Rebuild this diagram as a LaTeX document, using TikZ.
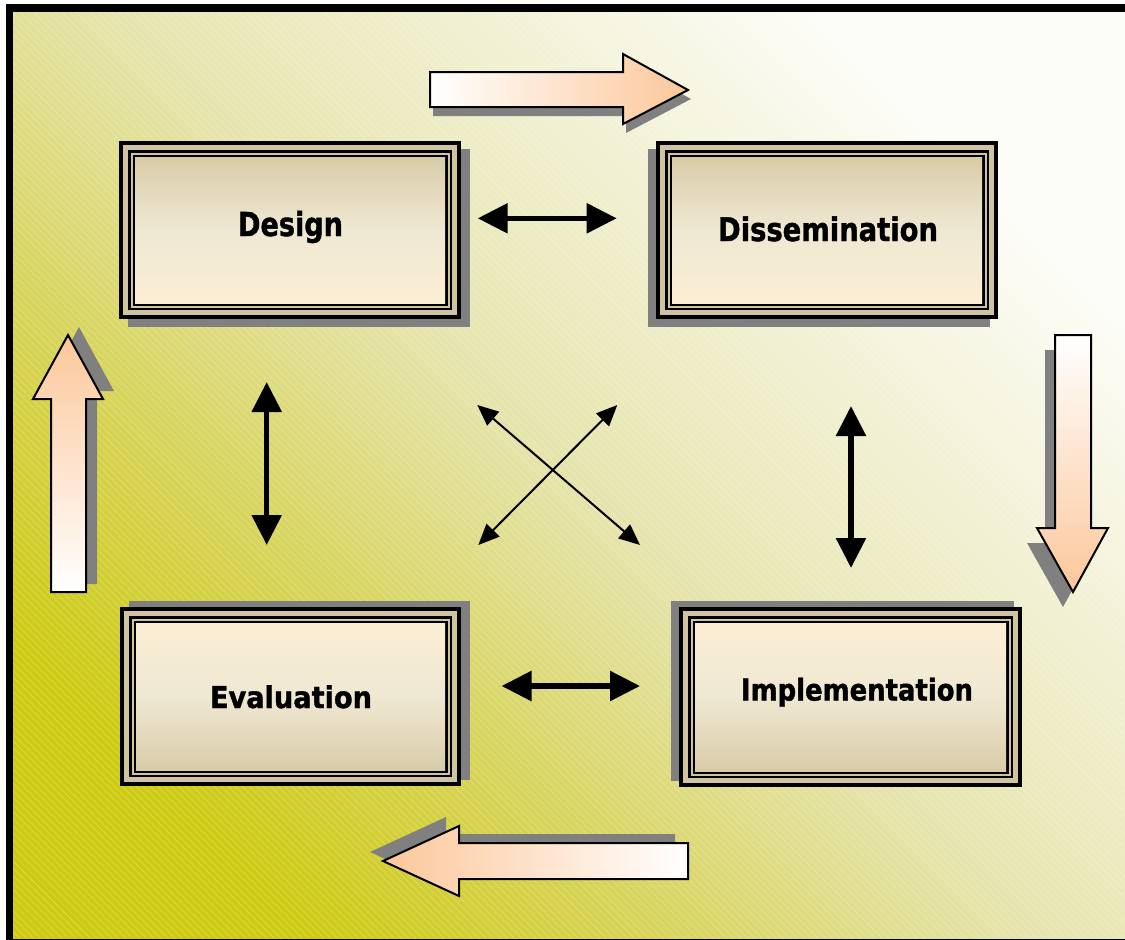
\documentclass[tikz,border=0pt]{standalone}
\usepackage{fontspec}
\usepackage{graphicx}
\setmainfont{DejaVu Sans}[BoldFeatures={FakeBold=1.3}]
\usetikzlibrary{arrows.meta,fit,calc,patterns.meta}
\definecolor{peach}{RGB}{252,199,154}
\definecolor{shadowgray}{RGB}{128,128,128}
\definecolor{tanline}{RGB}{208,195,160}
\definecolor{boxdark}{RGB}{216,204,168}
\definecolor{boxmid}{RGB}{239,232,210}
\definecolor{boxlight}{RGB}{251,238,213}
\definecolor{bgdark}{RGB}{206,202,18}
\definecolor{bgyel}{RGB}{216,213,96}
\definecolor{bgmid}{RGB}{230,228,172}
\definecolor{bglight}{RGB}{253,253,248}
\pgfdeclareverticalshading{bgshade}{100bp}{color(0bp)=(bgdark); color(25bp)=(bgdark); color(38bp)=(bgyel); color(50bp)=(bgmid); color(75bp)=(bglight); color(100bp)=(bglight)}

\tikzset{
  thickdbl/.style={line width=5.5pt, {Triangle[length=30pt,width=29pt]}-{Triangle[length=30pt,width=29pt]}},
  thindbl/.style={line width=2pt, {Triangle[length=21pt,width=18pt]}-{Triangle[length=21pt,width=18pt]}},
  blockarrow/.style={draw=black, line width=2pt, line join=miter},
  blockshadow/.style={fill=shadowgray},
  lbl/.style={anchor=base, inner sep=0pt, font=\bfseries},
  darktop/.style={top color=boxdark, bottom color=boxlight, middle color=boxmid},
  darkbottom/.style={top color=boxlight, bottom color=boxdark, middle color=boxmid},
}

% #1 name, #2 x1, #3 y1, #4 x2, #5 y2, #6 shadow dx, #7 shadow dy, #8 shading style
\newcommand\layeredbox[8]{%
  \coordinate (#1-nw) at (#2,#3);
  \coordinate (#1-se) at (#4,#5);
  \fill[shadowgray] ($(#1-nw)+(#6,#7)$) rectangle ($(#1-se)+(#6,#7)$);
  \node[fit=(#1-nw)(#1-se), inner sep=0pt, fill=black] (#1) {};
  \fill[tanline] ($(#1-nw)+(4,4)$) rectangle ($(#1-se)+(-4,-4)$);
  \fill[black] ($(#1-nw)+(9,9)$) rectangle ($(#1-se)+(-9,-9)$);
  \fill[tanline] ($(#1-nw)+(11.5,11.5)$) rectangle ($(#1-se)+(-11.5,-11.5)$);
  \fill[black] ($(#1-nw)+(13.5,13.5)$) rectangle ($(#1-se)+(-13.5,-13.5)$);
  \shade[#8] ($(#1-nw)+(16,16)$) rectangle ($(#1-se)+(-16,-16)$);
}

\begin{document}
\begin{tikzpicture}[x=1pt,y=-1pt]
\useasboundingbox (0,0) rectangle (1125,940);
% frame and background
\fill[black] (6,4) rectangle (1125,940);
\shade[shading=bgshade, shading angle=-45] (13,12) rectangle (1125,938);
\fill[pattern={Lines[angle=-45,distance=5pt,line width=0.7pt]}, pattern color=white, opacity=0.25] (13,12) rectangle (1125,938);

% boxes
\layeredbox{design}{119}{141}{461}{319}{9}{8}{darktop}
\layeredbox{dissem}{656}{141}{998}{319}{-8}{8}{darktop}
\layeredbox{evalu}{120}{607}{461}{786}{9}{-6}{darkbottom}
\layeredbox{implem}{679}{607}{1022}{787}{-8}{-6}{darkbottom}

% labels
\node[lbl] (design-t) at (290.5,236) {\resizebox{105pt}{\height}{\fontsize{33}{33}\selectfont Design}};
\node[lbl] (dissem-t) at (828,241) {\resizebox{220pt}{\height}{\fontsize{32.5}{33}\selectfont Dissemination}};
\node[lbl] (evalu-t) at (291,708) {\resizebox{162pt}{\height}{\fontsize{30}{30}\selectfont Evaluation}};
\node[lbl] (implem-t) at (857,700.5) {\resizebox{232pt}{\height}{\fontsize{30}{30}\selectfont Implementation}};

% connector end points
\coordinate (dd-a) at (477.7,218.3);
\coordinate (dd-b) at (616.7,218.3);
\coordinate (ei-a) at (501.5,686);
\coordinate (ei-b) at (640,686);
\coordinate (de-a) at (266.7,382);
\coordinate (de-b) at (266.7,545);
\coordinate (di-a) at (851,406);
\coordinate (di-b) at (851,568);
\coordinate (x1-a) at (477.3,405);
\coordinate (x1-b) at (640,545);
\coordinate (x2-a) at (617.3,405);
\coordinate (x2-b) at (478.3,545);

\draw[thickdbl] (dd-a) -- (dd-b);
\draw[thickdbl] (ei-a) -- (ei-b);
\draw[thickdbl] (de-a) -- (de-b);
\draw[thickdbl] (di-a) -- (di-b);
\draw[thindbl] (x1-a) -- (x1-b);
\draw[thindbl] (x2-a) -- (x2-b);

% block arrows
% top: right
\fill[blockshadow, shift={(3,9)}] (430,72) -- (623,72) -- (623,54) -- (688,90) -- (623,124) -- (623,107) -- (430,107) -- cycle;
\shade[left color=white, right color=peach] (430,72) -- (623,72) -- (623,54) -- (688,90) -- (623,124) -- (623,107) -- (430,107) -- cycle;
\draw[blockarrow] (430,72) -- (623,72) -- (623,54) -- (688,90) -- (623,124) -- (623,107) -- (430,107) -- cycle;
% right: down
\fill[blockshadow, shift={(-10,15)}] (1055,335) -- (1091,335) -- (1091,528) -- (1108,528) -- (1073,592) -- (1037,528) -- (1055,528) -- cycle;
\shade[top color=white, bottom color=peach] (1055,335) -- (1091,335) -- (1091,528) -- (1108,528) -- (1073,592) -- (1037,528) -- (1055,528) -- cycle;
\draw[blockarrow] (1055,335) -- (1091,335) -- (1091,528) -- (1108,528) -- (1073,592) -- (1037,528) -- (1055,528) -- cycle;
% bottom: left
\fill[blockshadow, shift={(-13,-9)}] (688,843) -- (688,879) -- (459,879) -- (459,896) -- (383,861) -- (459,826) -- (459,843) -- cycle;
\shade[left color=peach, right color=white] (688,843) -- (688,879) -- (459,879) -- (459,896) -- (383,861) -- (459,826) -- (459,843) -- cycle;
\draw[blockarrow] (688,843) -- (688,879) -- (459,879) -- (459,896) -- (383,861) -- (459,826) -- (459,843) -- cycle;
% left: up
\fill[blockshadow, shift={(11,-8)}] (51,592) -- (86,592) -- (86,399) -- (103,399) -- (68,335) -- (33,399) -- (51,399) -- cycle;
\shade[top color=peach, bottom color=white] (51,592) -- (86,592) -- (86,399) -- (103,399) -- (68,335) -- (33,399) -- (51,399) -- cycle;
\draw[blockarrow] (51,592) -- (86,592) -- (86,399) -- (103,399) -- (68,335) -- (33,399) -- (51,399) -- cycle;
\end{tikzpicture}
\end{document}
